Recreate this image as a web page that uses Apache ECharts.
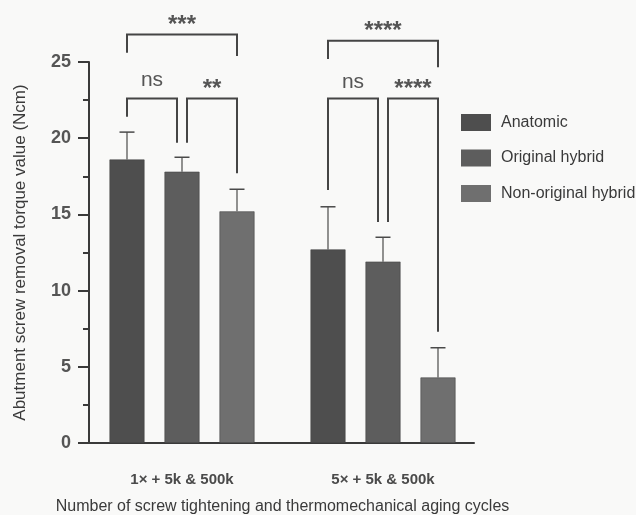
<!DOCTYPE html>
<html><head><meta charset="utf-8">
<script src="https://cdn.jsdelivr.net/npm/echarts@6/dist/echarts.min.js"></script>
<style>html,body{margin:0;padding:0;background:#f9f9f8;}#c{width:636px;height:515px;}</style>
</head><body><div id="c"></div>
<script>
const categories = ['1× + 5k & 500k', '5× + 5k & 500k'];
const seriesNames = ['Anatomic', 'Original hybrid', 'Non-original hybrid'];
const anatomic = [18.6, 12.7];
const anatomicSD = [1.8, 2.8];
const original = [17.8, 11.9];
const originalSD = [0.95, 1.6];
const nonOriginal = [15.2, 4.3];
const nonOriginalSD = [1.45, 1.95];
const yTicks = [0, 5, 10, 15, 20, 25];
// [category, fromBar, toBar, topY, leftLegEndY, rightLegEndY, label, labelY]
const brackets = [
  [0, 0, 2, 26.8, 25.6, 25.4, '***', 27.8],
  [0, 0, 1, 22.6, 21.4, 19.7, 'ns', 23.8],
  [0, 1, 2, 22.6, 19.7, 17.7, '**', 23.6],
  [1, 0, 2, 26.4, 25.2, 24.65, '****', 27.4],
  [1, 0, 1, 22.6, 16.6, 14.5, 'ns', 23.7],
  [1, 1, 2, 22.6, 14.5, 7.3, '****', 23.6]
];

const colors = ['#4e4e4e', '#5d5d5d', '#6f6f6f'];
const BAR_W = 35, GAP = 20;
const values = [anatomic, original, nonOriginal];
const sds = [anatomicSD, originalSD, nonOriginalSD];
const FONT = '"Liberation Sans", Arial';

function barOffset(i) { return (i - 1) * (BAR_W + GAP); }

const series = [];
values.forEach((v, i) => {
  series.push({
    name: seriesNames[i], type: 'bar', data: v, barWidth: BAR_W, barGap: (GAP / BAR_W * 100) + '%',
    itemStyle: { color: colors[i], borderColor: '#444', borderWidth: 0.6 }, z: 2
  });
});
values.forEach((v, i) => {
  series.push({
    type: 'custom', name: 'err' + i, z: 3, silent: true,
    data: v.map((m, k) => [k, m, m + sds[i][k]]),
    renderItem: function (params, api) {
      const c = api.value(0);
      const p0 = api.coord([c, api.value(1)]);
      const p1 = api.coord([c, api.value(2)]);
      const x = p0[0] + barOffset(i);
      return { type: 'group', children: [
        { type: 'line', shape: { x1: x, y1: p0[1], x2: x, y2: p1[1] }, style: { stroke: '#4a4a4a', lineWidth: 1.2 } },
        { type: 'line', shape: { x1: x - 7.5, y1: p1[1], x2: x + 7.5, y2: p1[1] }, style: { stroke: '#4a4a4a', lineWidth: 1.5 } }
      ]};
    }
  });
});
series.push({
  type: 'custom', name: 'brackets', z: 4, silent: true, clip: false,
  data: brackets.map(b => [b[0], b[3]]),
  renderItem: function (params, api) {
    const b = brackets[params.dataIndex];
    const base = api.coord([b[0], b[3]]);
    let xl = base[0] + barOffset(b[1]);
    let xr = base[0] + barOffset(b[2]);
    if (b[1] === 1) xl += 5;
    if (b[2] === 1) xr -= 5;
    const yt = base[1];
    const yl = api.coord([b[0], b[4]])[1];
    const yr = api.coord([b[0], b[5]])[1];
    const ly = api.coord([b[0], b[7]])[1];
    const isStar = b[6].indexOf('*') >= 0;
    return { type: 'group', children: [
      { type: 'polyline', shape: { points: [[xl, yl], [xl, yt], [xr, yt], [xr, yr]] }, style: { stroke: '#454545', lineWidth: 2, fill: null } },
      { type: 'text', x: (xl + xr) / 2, y: ly + (isStar ? 6 : 0), style: { text: b[6], textAlign: 'center', textVerticalAlign: 'middle', fill: '#555', font: isStar ? 'bold 24px ' + FONT : '21px ' + FONT } }
    ]};
  }
});

const chart = echarts.init(document.getElementById('c'), null, { renderer: 'canvas' });
chart.setOption({
  backgroundColor: '#f9f9f8',
  animation: false,
  legend: {
    data: seriesNames, orient: 'vertical', left: 461, top: 114, padding: 0,
    itemWidth: 30, itemHeight: 17, itemGap: 18.5, icon: 'rect',
    itemStyle: { borderWidth: 0 },
    textStyle: { fontFamily: FONT, fontSize: 16, color: '#3a3a3a', padding: [0, 0, 0, 5] }
  },
  grid: [
    { left: 81.5, right: 152.5, top: 62, bottom: 72, containLabel: false, outerBoundsMode: 'none' },
    { left: 89, right: 162, top: 62, bottom: 72, containLabel: false, outerBoundsMode: 'none' }
  ],
  xAxis: [{
    type: 'category', data: categories, boundaryGap: true, gridIndex: 0,
    axisLine: { show: false },
    axisTick: { alignWithLabel: true, length: 12, lineStyle: { color: '#3a3a3a', width: 2 } },
    axisLabel: { margin: 29, fontFamily: FONT, fontSize: 15, fontWeight: 'bold', color: '#4a4a4a' },
    name: 'Number of screw tightening and thermomechanical aging cycles',
    nameLocation: 'middle', nameGap: 56,
    nameTextStyle: { fontFamily: FONT, fontSize: 16, color: '#3a3a3a' }
  }, {
    type: 'value', gridIndex: 1, min: 0, max: 1,
    axisLine: { show: true, onZero: false, lineStyle: { color: '#3a3a3a', width: 2 } },
    axisTick: { show: false }, axisLabel: { show: false }, splitLine: { show: false }
  }],
  yAxis: [{
    type: 'value', gridIndex: 0, show: false, min: yTicks[0], max: yTicks[yTicks.length - 1], interval: 5
  }, {
    type: 'value', gridIndex: 1, min: yTicks[0], max: yTicks[yTicks.length - 1], interval: 5,
    axisLine: { show: true, lineStyle: { color: '#3a3a3a', width: 2 } },
    axisTick: { show: true, length: 11, lineStyle: { color: '#3a3a3a', width: 2 } },
    minorTick: { show: true, splitNumber: 2, length: 6, lineStyle: { color: '#3a3a3a', width: 2 } },
    splitLine: { show: false },
    axisLabel: { margin: 18, fontFamily: FONT, fontSize: 18, fontWeight: 'bold', color: '#555' },
    name: 'Abutment screw removal torque value (Ncm)',
    nameLocation: 'middle', nameGap: 60,
    nameTextStyle: { fontFamily: FONT, fontSize: 17, color: '#3a3a3a' }
  }],
  series: series
});
</script>
</body></html>
